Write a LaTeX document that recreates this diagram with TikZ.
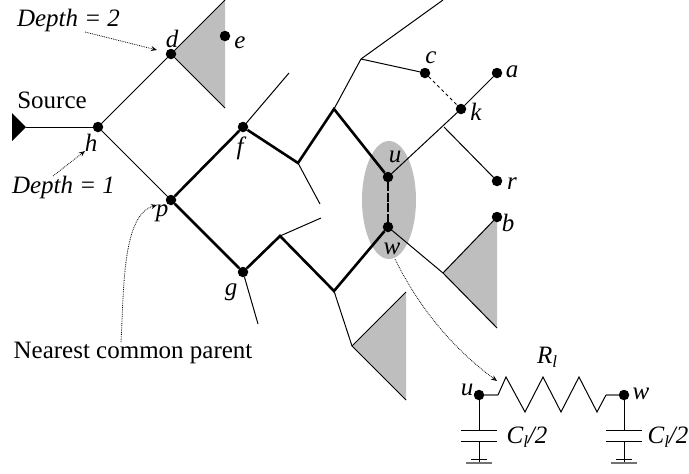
\documentclass[tikz,border=0pt]{standalone}
\usepackage{fontspec}
\setmainfont{Liberation Serif}
\definecolor{shadegray}{RGB}{190,190,190}
\usetikzlibrary{arrows.meta,shapes.geometric}
\newcommand{\lsub}{\raisebox{-.35ex}{\fontsize{17}{17}\selectfont\itshape l}}

\begin{document}
\begin{tikzpicture}[x=1pt,y=-1pt,
dot/.style={circle,fill=black,inner sep=0pt,minimum size=10.5pt},
wire/.style={line width=1pt,draw=black},
path/.style={line width=2.6pt,draw=black,line join=miter},
lbl/.style={font=\fontsize{25}{25}\selectfont\itshape,inner sep=0pt},
txt/.style={font=\fontsize{25}{25}\selectfont,inner sep=0pt},
note/.style={-{Stealth[open,length=6pt,width=5pt]},line width=.8pt,densely dotted,draw=black},
lead/.style={line width=1.6pt,draw=black!55},
shade/.style={fill=shadegray,draw=none}]
\useasboundingbox (0,0) rectangle (689,474);
\node[ellipse,fill=shadegray,minimum width=54pt,minimum height=118pt,inner sep=0pt] (oval) at (389,200) {};
% tree junctions
\coordinate (t1) at (225,0); \coordinate (t2) at (225,108);
\coordinate (s1) at (12,113); \coordinate (s2) at (12,141); \coordinate (s3) at (26,127);
\coordinate (j1) at (298,163); \coordinate (j2) at (334,109); \coordinate (j3) at (361,59);
\coordinate (j4) at (443,0); \coordinate (j5) at (320,204); \coordinate (j6) at (289,73);
\coordinate (j7) at (280,236); \coordinate (j8) at (334,291); \coordinate (j9) at (321,218);
\coordinate (j10) at (258,324); \coordinate (j11) at (352,346); \coordinate (j12) at (406,292);
\coordinate (j13) at (406,400); \coordinate (j14) at (444,127); \coordinate (j15) at (443,273);
\coordinate (j16) at (497,328);
\fill[shade] (171,54)--(t1)--(t2)--cycle;
\fill[shade] (j11)--(j12)--(j13)--cycle;
\fill[shade] (j15)--(497,217)--(j16)--cycle;
\fill[black] (s1)--(s2)--(s3)--cycle;
\node[dot] (h) at (98,127) {};
\node[dot] (d) at (171,54) {};
\node[dot] (e) at (225,36) {};
\node[dot] (p) at (171,200) {};
\node[dot] (f) at (243,127) {};
\node[dot] (g) at (243,272) {};
\node[dot] (u) at (388,177) {};
\node[dot] (w) at (388,227) {};
\node[dot] (c) at (425,73) {};
\node[dot] (k) at (461,109) {};
\node[dot] (a) at (497,73) {};
\node[dot] (r) at (497,181) {};
\node[dot] (b) at (497,217) {};
\draw[wire] (s3)--(h); \draw[wire] (h)--(d); \draw[wire] (h)--(p);
\draw[wire] (d)--(t1); \draw[wire] (d)--(t2);
\draw[wire] (f)--(j6); \draw[wire] (j1)--(j5); \draw[wire] (j2)--(j3);
\draw[wire] (j3)--(j4); \draw[wire] (j3)--(c);
\draw[wire,dashed] (c)--(k);
\draw[wire] (u)--(k); \draw[wire] (k)--(a); \draw[wire] (j14)--(r);
\draw[wire] (j7)--(j9); \draw[wire] (g)--(j10); \draw[wire] (j8)--(j11);
\draw[wire] (j11)--(j12); \draw[wire] (j11)--(j13);
\draw[wire] (w)--(j15); \draw[wire] (j15)--(b); \draw[wire] (j15)--(j16);
\draw[path] (p)--(f)--(j1)--(j2)--(u);
\draw[path] (p)--(g)--(j7)--(j8)--(w);
\draw[line width=2pt,dashed,dash pattern=on 9pt off 1.5pt] (u)--(w);
% circuit
\node[dot] (u2) at (479,395) {};
\node[dot] (w2) at (624,395) {};
\coordinate (r1) at (498,395); \coordinate (r2) at (606,395);
\coordinate (c1) at (479,430); \coordinate (c2) at (479,441); \coordinate (g1) at (479,463);
\coordinate (c3) at (624,430); \coordinate (c4) at (624,441); \coordinate (g2) at (624,463);
\draw[lead] (u2)--(r1); \draw[lead] (r2)--(w2);
\draw[wire] (r1)--(506,377)--(525,412)--(543,377)--(561,412)--(579,377)--(597,412)--(r2);
\draw[wire] (u2)--(c1); \draw[wire] (c2)--(g1); \draw[wire] (w2)--(c3); \draw[wire] (c4)--(g2);
\foreach \n in {c1,c2,c3,c4} \draw[wire] ([xshift=-18pt]\n.center)--([xshift=18pt]\n.center);
\foreach \n in {g1,g2} {\draw[lead] ([xshift=-13pt]\n.center)--([xshift=13pt]\n.center);
  \draw[wire] ([xshift=-8pt,yshift=4pt]\n.center)--([xshift=8pt,yshift=4pt]\n.center);}
% labels
\node[txt] (src) at (52,100) {Source};
\node[txt] (ncp) at (133,353) {Nearest common parent};
\node[lbl] (d2) at (68.5,20) {Depth = 2};
\node[lbl] (d1) at (63.5,187) {Depth = 1};
\node[lbl] at (172,39) {d}; \node[lbl] at (240,43) {e};
\node[lbl] at (91,143) {h}; \node[lbl] at (240,148) {f};
\node[lbl] at (162,213) {p}; \node[lbl] at (231,292) {g};
\node[lbl] at (395,157) {u}; \node[lbl] at (392,249) {w};
\node[lbl] at (431,58) {c}; \node[lbl] at (476,112) {k};
\node[lbl] at (512,72) {a}; \node[lbl] at (512,184) {r};
\node[lbl] at (508,223) {b};
\node[lbl] at (467,390) {u}; \node[lbl] at (641,394) {w};
\node[lbl] at (547,357) {R\lsub};
\node[lbl] at (527,437) {C\lsub/2};
\node[lbl] at (668,437) {C\lsub/2};
% notes
\coordinate (n1) at (85,32); \coordinate (n2) at (157,50);
\coordinate (n3) at (53,176); \coordinate (n4) at (85,151);
\coordinate (n5) at (121,342); \coordinate (n6) at (157,205);
\coordinate (n7) at (395,259); \coordinate (n8) at (497,381);
\draw[note] (n1)--(n2);
\draw[note] (n3)--(n4);
\draw[note] (n5) .. controls (124,290) and (122,215) .. (n6);
\draw[note] (n7) .. controls (420,310) and (455,350) .. (n8);
\end{tikzpicture}
\end{document}
